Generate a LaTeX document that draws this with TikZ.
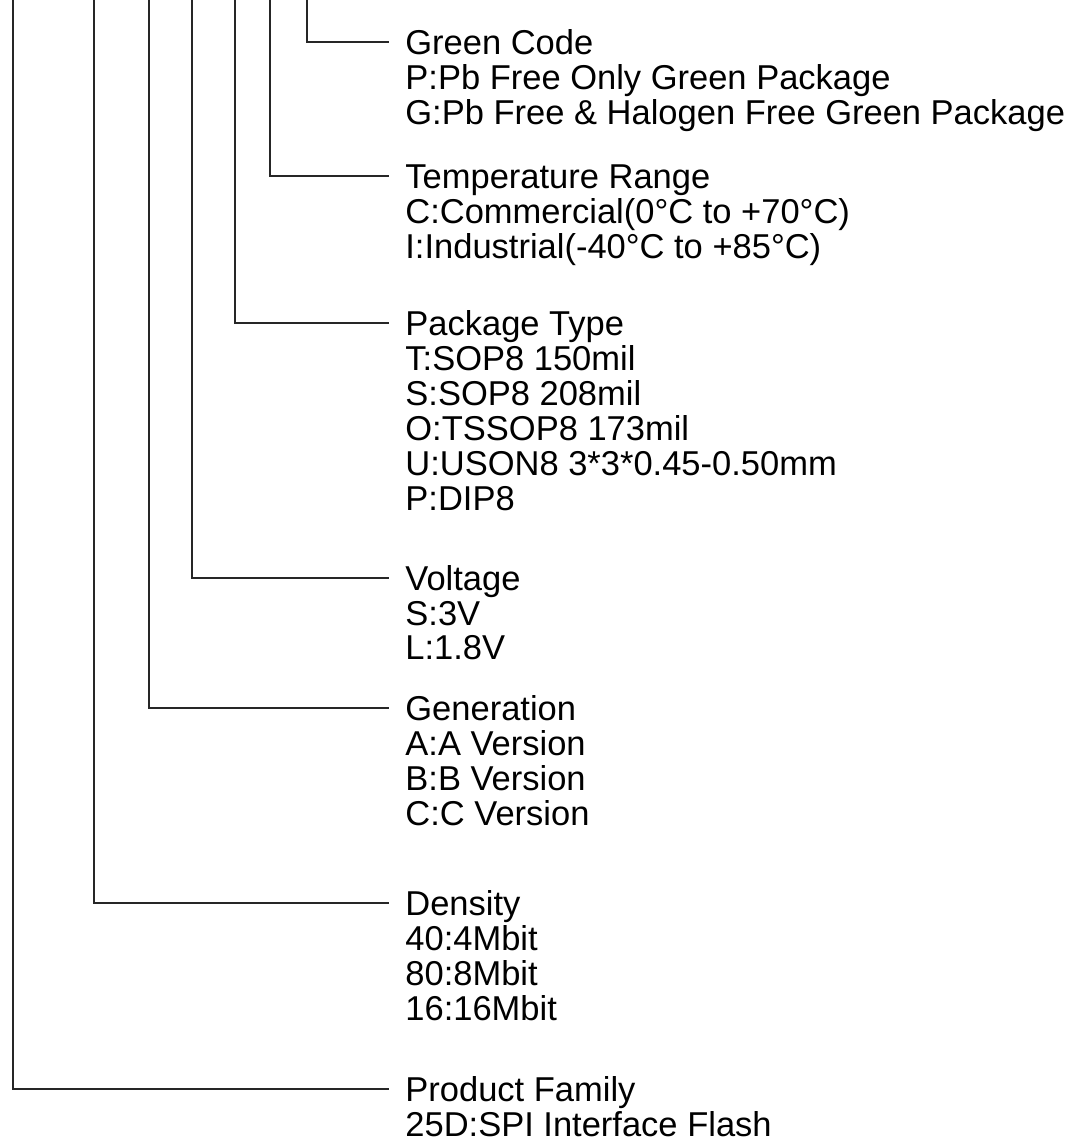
\documentclass[tikz,border=0pt]{standalone}
\usepackage{fontspec}
\setmainfont{Liberation Sans}
\usetikzlibrary{positioning}

\begin{document}
\begin{tikzpicture}[x=0.5pt, y=-0.5pt,
    every node/.style={font=\fontsize{17.25pt}{17.4pt}\selectfont, inner xsep=8pt, inner ysep=0pt},
    head/.style={anchor=west, text height=12.35pt, text depth=0pt},
    items/.style={align=left},
    lead/.style={line width=1pt, black!85}]
    \useasboundingbox (0,0) rectangle (1080,1147);

    % Field titles
    \node[head] (green) at (389,42)   {Green Code};
    \node[head] (temp)  at (389,176)  {Temperature Range};
    \node[head] (pkg)   at (389,323)  {Package Type};
    \node[head] (volt)  at (389,578)  {Voltage};
    \node[head] (gen)   at (389,708)  {Generation};
    \node[head] (dens)  at (389,903)  {Density};
    \node[head] (fam)   at (389,1089) {Product Family};

    % Field values
    \node[items, below right=4.9pt and 0pt of green.south west] (greenv)
        {P:Pb Free Only Green Package\\G:Pb Free \& Halogen Free Green Package};
    \node[items, below right=4.9pt and 0pt of temp.south west] (tempv)
        {C:Commercial(0°C to +70°C)\\I:Industrial(-40°C to +85°C)};
    \node[items, below right=4.9pt and 0pt of pkg.south west] (pkgv)
        {T:SOP8 150mil\\S:SOP8 208mil\\O:TSSOP8 173mil\\U:USON8 3*3*0.45-0.50mm\\P:DIP8};
    \node[items, below right=4.9pt and 0pt of volt.south west] (voltv)
        {S:3V\\L:1.8V};
    \node[items, below right=4.9pt and 0pt of gen.south west] (genv)
        {A:A Version\\B:B Version\\C:C Version};
    \node[items, below right=4.9pt and 0pt of dens.south west] (densv)
        {40:4Mbit\\80:8Mbit\\16:16Mbit};
    \node[items, below right=4.9pt and 0pt of fam.south west] (famv)
        {25D:SPI Interface Flash};

    % Leader lines from the part number above
    \coordinate (tgreen) at (307,0);
    \coordinate (ttemp)  at (270,0);
    \coordinate (tpkg)   at (235,0);
    \coordinate (tvolt)  at (192,0);
    \coordinate (tgen)   at (148.5,0);
    \coordinate (tdens)  at (93.5,0);
    \coordinate (tfam)   at (12.7,0);

    \draw[lead] (tgreen) |- (green);
    \draw[lead] (ttemp) |- (temp);
    \draw[lead] (tpkg) |- (pkg);
    \draw[lead] (tvolt) |- (volt);
    \draw[lead] (tgen) |- (gen);
    \draw[lead] (tdens) |- (dens);
    \draw[lead] (tfam) |- (fam);
\end{tikzpicture}
\end{document}
